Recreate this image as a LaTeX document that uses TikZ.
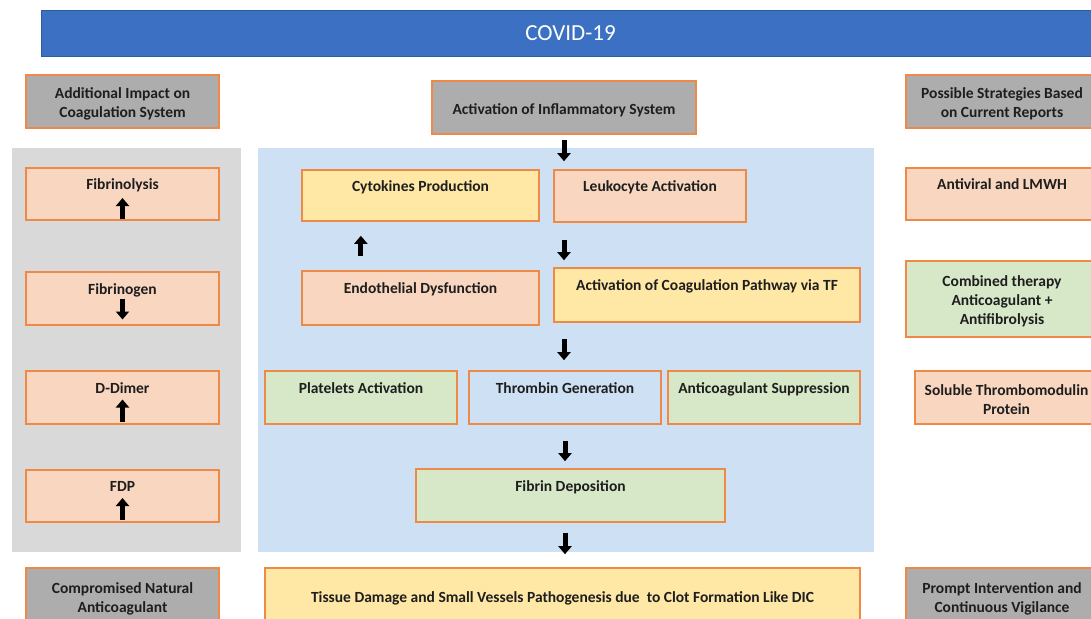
\documentclass[tikz,border=0pt]{standalone}
\usepackage{fontspec}
\setmainfont{Carlito}
\usetikzlibrary{arrows.meta,calc}
\definecolor{titleblue}{HTML}{3B70C2}
\definecolor{hdrgray}{HTML}{ADADAD}
\definecolor{borderor}{HTML}{EE8A45}
\definecolor{salmon}{HTML}{F8D6C0}
\definecolor{yel}{HTML}{FFE8A6}
\definecolor{grn}{HTML}{D6E8C8}
\definecolor{panelblue}{HTML}{CEE0F3}
\definecolor{panelgray}{HTML}{D9D9D9}
\definecolor{txt}{HTML}{1E1E1E}
\newcommand\bx[7]{%
  \node[box,#6,minimum width={(#4-#2)*1pt},minimum height={(#5-#3)*1pt}] (#1) at ({(#2+#4)/2},{(#3+#5)/2}) {};
  \node[boxtext] (#1-t) at ($(#1.center)+(0,2.5)$) {#7};}
\begin{document}
\begin{tikzpicture}[x=1pt,y=-1pt,
  box/.style={draw=borderor, line width=1.6pt, inner sep=0pt},
  boxtext/.style={inner sep=0pt, align=center, text=txt,
    font=\bfseries\fontsize{15.5}{19}\selectfont},
  hdr/.style={fill=hdrgray},
  sal/.style={fill=salmon},
  yl/.style={fill=yel},
  gr/.style={fill=grn},
  bl/.style={fill=panelblue},
  blk/.style={line width=5pt, draw=black, -{Triangle[width=13pt,length=8pt]}}]
\useasboundingbox (0,0) rectangle (1091,618);
\clip (0,0) rectangle (1091,618);
% panels
\fill[panelgray] (12,148) rectangle (241,552);
\fill[panelblue] (258,148) rectangle (874,552);
% title
\node[fill=titleblue, draw=titleblue!80!black, line width=0.6pt, minimum width=1059pt, minimum height=46pt, inner sep=0pt,
  text=white, font=\fontsize{23}{26}\selectfont] (title) at (570.5,33) {COVID-19};
% headers
\bx{hl}{26}{75}{219}{128}{hdr}{Additional Impact on\\Coagulation System}
\bx{hc}{432}{81}{696}{134}{hdr}{Activation of Inflammatory System}
\bx{hr}{906}{75}{1098}{128}{hdr}{Possible Strategies Based\\on Current Reports}
% left column
\bx{fbl}{26}{168}{219}{220}{sal}{Fibrinolysis\\\strut}
\bx{fbg}{26}{272}{219}{325}{sal}{Fibrinogen\\\strut}
\bx{dd}{26}{371}{219}{424}{sal}{D-Dimer\\\strut}
\bx{fdp}{26}{470}{219}{522}{sal}{FDP\\\strut}
% center
\bx{cyto}{302}{170}{539}{221}{yl}{Cytokines Production\\\strut}
\bx{leuk}{554}{170}{746}{222}{sal}{Leukocyte Activation\\\strut}
\bx{endo}{302}{271}{539}{325}{sal}{Endothelial Dysfunction\\\strut}
\bx{coag}{554}{268}{860}{322}{yl}{Activation of Coagulation Pathway via TF\\\strut}
\bx{plat}{265}{371}{457}{424}{gr}{Platelets Activation\\\strut}
\bx{thr}{469}{371}{661}{424}{bl}{Thrombin Generation\\\strut}
\bx{anti}{668}{371}{860}{424}{gr}{Anticoagulant Suppression\\\strut}
\bx{fib}{416}{469}{725}{522}{gr}{Fibrin Deposition\\\strut}
% right column
\bx{antiv}{906}{168}{1098}{220}{sal}{Antiviral and LMWH\\\strut}
\bx{comb}{906}{261}{1098}{337}{gr}{Combined therapy\\Anticoagulant +\\Antifibrolysis}
\bx{sol}{915}{371}{1098}{424}{sal}{Soluble Thrombomodulin\\Protein}
% bottom
\bx{bl}{26}{568}{219}{624}{hdr}{Compromised Natural\\Anticoagulant}
\bx{tis}{265}{568}{860}{624}{yl}{Tissue Damage and Small Vessels Pathogenesis due~ to Clot Formation Like DIC}
\bx{br}{906}{568}{1098}{624}{hdr}{Prompt Intervention and\\Continuous Vigilance}
% indicator arrows in left boxes
\draw[blk] ($(fbl.center)+(0,25)$) -- ($(fbl.center)+(0,4)$);
\draw[blk] ($(fbg.center)+(0,0)$) -- ($(fbg.center)+(0,21)$);
\draw[blk] ($(dd.center)+(0,24)$) -- ($(dd.center)+(0,2)$);
\draw[blk] ($(fdp.center)+(0,24)$) -- ($(fdp.center)+(0,2)$);
% connectors
\draw[blk, shorten <=5pt, shorten >=8pt] (hc.south) -- (hc.south |- leuk.north);
\coordinate (ex) at ($(endo.north west)!0.25!(endo.north east)$);
\draw[blk, shorten <=14pt, shorten >=14pt] (ex) -- (ex |- cyto.south);
\draw[blk, shorten <=17pt, shorten >=7pt] (hc.south |- leuk.south) -- (hc.south |- coag.north);
\draw[blk, shorten <=16pt, shorten >=10pt] (hc.south |- coag.south) -- (hc.south |- thr.north);
\draw[blk, shorten <=16pt, shorten >=7pt] (thr.south) -- (thr.south |- fib.north);
\draw[blk, shorten <=10pt, shorten >=13pt] (thr.south |- fib.south) -- (thr.south |- tis.north);
\end{tikzpicture}
\end{document}
